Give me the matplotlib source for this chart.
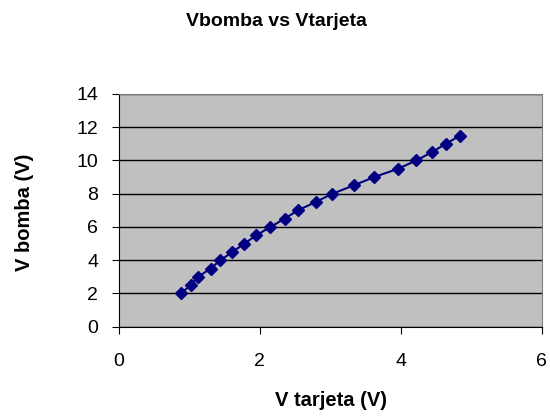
import matplotlib.pyplot as plt

plt.rcParams['font.family'] = ['Liberation Sans', 'DejaVu Sans']

# data
v_tarjeta = [0.875, 1.02, 1.125, 1.30, 1.44, 1.61, 1.78, 1.95, 2.15, 2.35,
             2.54, 2.79, 3.03, 3.33, 3.62, 3.96, 4.22, 4.44, 4.64, 4.84]
v_bomba = [2.0, 2.5, 3.0, 3.5, 4.0, 4.5, 5.0, 5.5, 6.0, 6.5,
           7.0, 7.5, 8.0, 8.5, 9.0, 9.5, 10.0, 10.5, 11.0, 11.5]

W, H = 550, 417
fig = plt.figure(figsize=(5.5, 4.17), dpi=100)
ax = fig.add_axes([119/W, 1-326.7/H, (541.7-119)/W, (326.7-94)/H])
ax.set_facecolor('#C0C0C0')

ax.plot(v_tarjeta, v_bomba, color='#000080', lw=1.5, marker='D', ms=6.5,
        zorder=3)

ax.set_xlim(0, 6)
ax.set_ylim(0, 14)
ax.set_xticks([0, 2, 4, 6])
ax.set_yticks(range(0, 15, 2))
ax.yaxis.grid(True, color='black', lw=1)
ax.set_axisbelow(True)
for s in ['top', 'right']:
    ax.spines[s].set_color('#808080')
for s in ['left', 'bottom']:
    ax.spines[s].set_color('black')
ax.tick_params(direction='out', length=5, labelsize=14, pad=10)
ax.tick_params(axis='x', pad=14)

# axis labels and title
fig.text(331/W, 1-401/H, 'V tarjeta (V)', ha='center', va='center',
         fontsize=14.5, fontweight='bold')
fig.text(25/W, 1-212/H, 'V bomba (V)', ha='center', va='center',
         rotation=90, fontsize=14.5, fontweight='bold')
fig.text(276/W, 1-21/H, 'Vbomba vs Vtarjeta', ha='center', va='center',
         fontsize=14, fontweight='bold')

fig.savefig('out.png')
